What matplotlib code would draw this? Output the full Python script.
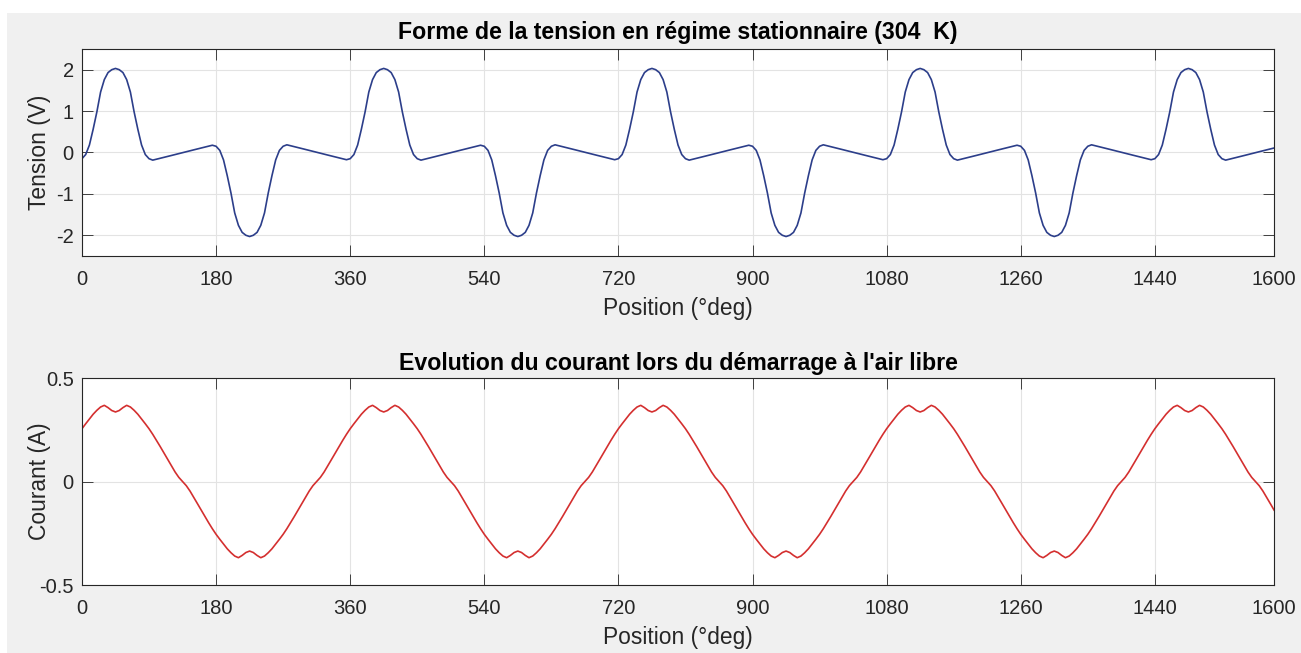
import numpy as np
import matplotlib
matplotlib.use("Agg")
import matplotlib.pyplot as plt
from matplotlib.patches import Rectangle

plt.rcParams['font.family'] = ['Liberation Sans', 'DejaVu Sans']
plt.rcParams['axes.unicode_minus'] = False

# position axis, one sample every 5 deg from 0 to 1600
position = np.arange(0, 1601, 5)

# voltage (V)
tension = [
    -0.15, -0.05, 0.18, 0.56, 0.98, 1.46, 1.76, 1.93, 2.00, 2.03, 2.00, 1.93,
    1.76, 1.46, 0.98, 0.56, 0.18, -0.05, -0.15, -0.185, -0.163, -0.14, -0.118, -0.095,
    -0.073, -0.05, -0.028, -0.005, 0.018, 0.04, 0.063, 0.085, 0.108, 0.13, 0.153, 0.175,
    0.15, 0.05, -0.18, -0.56, -0.98, -1.46, -1.76, -1.93, -2.00, -2.03, -2.00, -1.93,
    -1.76, -1.46, -0.98, -0.56, -0.18, 0.05, 0.15, 0.185, 0.163, 0.14, 0.118, 0.095,
    0.073, 0.05, 0.028, 0.005, -0.018, -0.04, -0.063, -0.085, -0.108, -0.13, -0.153, -0.175,
    # 360
    -0.15, -0.05, 0.18, 0.56, 0.98, 1.46, 1.76, 1.93, 2.00, 2.03, 2.00, 1.93,
    1.76, 1.46, 0.98, 0.56, 0.18, -0.05, -0.15, -0.185, -0.163, -0.14, -0.118, -0.095,
    -0.073, -0.05, -0.028, -0.005, 0.018, 0.04, 0.063, 0.085, 0.108, 0.13, 0.153, 0.175,
    0.15, 0.05, -0.18, -0.56, -0.98, -1.46, -1.76, -1.93, -2.00, -2.03, -2.00, -1.93,
    -1.76, -1.46, -0.98, -0.56, -0.18, 0.05, 0.15, 0.185, 0.163, 0.14, 0.118, 0.095,
    0.073, 0.05, 0.028, 0.005, -0.018, -0.04, -0.063, -0.085, -0.108, -0.13, -0.153, -0.175,
    # 720
    -0.15, -0.05, 0.18, 0.56, 0.98, 1.46, 1.76, 1.93, 2.00, 2.03, 2.00, 1.93,
    1.76, 1.46, 0.98, 0.56, 0.18, -0.05, -0.15, -0.185, -0.163, -0.14, -0.118, -0.095,
    -0.073, -0.05, -0.028, -0.005, 0.018, 0.04, 0.063, 0.085, 0.108, 0.13, 0.153, 0.175,
    0.15, 0.05, -0.18, -0.56, -0.98, -1.46, -1.76, -1.93, -2.00, -2.03, -2.00, -1.93,
    -1.76, -1.46, -0.98, -0.56, -0.18, 0.05, 0.15, 0.185, 0.163, 0.14, 0.118, 0.095,
    0.073, 0.05, 0.028, 0.005, -0.018, -0.04, -0.063, -0.085, -0.108, -0.13, -0.153, -0.175,
    # 1080
    -0.15, -0.05, 0.18, 0.56, 0.98, 1.46, 1.76, 1.93, 2.00, 2.03, 2.00, 1.93,
    1.76, 1.46, 0.98, 0.56, 0.18, -0.05, -0.15, -0.185, -0.163, -0.14, -0.118, -0.095,
    -0.073, -0.05, -0.028, -0.005, 0.018, 0.04, 0.063, 0.085, 0.108, 0.13, 0.153, 0.175,
    0.15, 0.05, -0.18, -0.56, -0.98, -1.46, -1.76, -1.93, -2.00, -2.03, -2.00, -1.93,
    -1.76, -1.46, -0.98, -0.56, -0.18, 0.05, 0.15, 0.185, 0.163, 0.14, 0.118, 0.095,
    0.073, 0.05, 0.028, 0.005, -0.018, -0.04, -0.063, -0.085, -0.108, -0.13, -0.153, -0.175,
    # 1440
    -0.15, -0.05, 0.18, 0.56, 0.98, 1.46, 1.76, 1.93, 2.00, 2.03, 2.00, 1.93,
    1.76, 1.46, 0.98, 0.56, 0.18, -0.05, -0.15, -0.185, -0.163, -0.14, -0.118, -0.095,
    -0.073, -0.05, -0.028, -0.005, 0.018, 0.04, 0.063, 0.085, 0.108,
]

# current (A)
courant = [
    0.255, 0.279, 0.302, 0.325, 0.344, 0.360, 0.368, 0.357, 0.343, 0.336, 0.343, 0.357,
    0.368, 0.360, 0.344, 0.325, 0.302, 0.279, 0.255, 0.228, 0.199, 0.169, 0.138, 0.107,
    0.076, 0.046, 0.020, 0.0, -0.020, -0.046, -0.076, -0.107, -0.138, -0.169, -0.199, -0.228,
    -0.255, -0.279, -0.302, -0.325, -0.344, -0.360, -0.368, -0.357, -0.343, -0.336, -0.343, -0.357,
    -0.368, -0.360, -0.344, -0.325, -0.302, -0.279, -0.255, -0.228, -0.199, -0.169, -0.138, -0.107,
    -0.076, -0.046, -0.020, 0.0, 0.020, 0.046, 0.076, 0.107, 0.138, 0.169, 0.199, 0.228,
    # 360
    0.255, 0.279, 0.302, 0.325, 0.344, 0.360, 0.368, 0.357, 0.343, 0.336, 0.343, 0.357,
    0.368, 0.360, 0.344, 0.325, 0.302, 0.279, 0.255, 0.228, 0.199, 0.169, 0.138, 0.107,
    0.076, 0.046, 0.020, 0.0, -0.020, -0.046, -0.076, -0.107, -0.138, -0.169, -0.199, -0.228,
    -0.255, -0.279, -0.302, -0.325, -0.344, -0.360, -0.368, -0.357, -0.343, -0.336, -0.343, -0.357,
    -0.368, -0.360, -0.344, -0.325, -0.302, -0.279, -0.255, -0.228, -0.199, -0.169, -0.138, -0.107,
    -0.076, -0.046, -0.020, 0.0, 0.020, 0.046, 0.076, 0.107, 0.138, 0.169, 0.199, 0.228,
    # 720
    0.255, 0.279, 0.302, 0.325, 0.344, 0.360, 0.368, 0.357, 0.343, 0.336, 0.343, 0.357,
    0.368, 0.360, 0.344, 0.325, 0.302, 0.279, 0.255, 0.228, 0.199, 0.169, 0.138, 0.107,
    0.076, 0.046, 0.020, 0.0, -0.020, -0.046, -0.076, -0.107, -0.138, -0.169, -0.199, -0.228,
    -0.255, -0.279, -0.302, -0.325, -0.344, -0.360, -0.368, -0.357, -0.343, -0.336, -0.343, -0.357,
    -0.368, -0.360, -0.344, -0.325, -0.302, -0.279, -0.255, -0.228, -0.199, -0.169, -0.138, -0.107,
    -0.076, -0.046, -0.020, 0.0, 0.020, 0.046, 0.076, 0.107, 0.138, 0.169, 0.199, 0.228,
    # 1080
    0.255, 0.279, 0.302, 0.325, 0.344, 0.360, 0.368, 0.357, 0.343, 0.336, 0.343, 0.357,
    0.368, 0.360, 0.344, 0.325, 0.302, 0.279, 0.255, 0.228, 0.199, 0.169, 0.138, 0.107,
    0.076, 0.046, 0.020, 0.0, -0.020, -0.046, -0.076, -0.107, -0.138, -0.169, -0.199, -0.228,
    -0.255, -0.279, -0.302, -0.325, -0.344, -0.360, -0.368, -0.357, -0.343, -0.336, -0.343, -0.357,
    -0.368, -0.360, -0.344, -0.325, -0.302, -0.279, -0.255, -0.228, -0.199, -0.169, -0.138, -0.107,
    -0.076, -0.046, -0.020, 0.0, 0.020, 0.046, 0.076, 0.107, 0.138, 0.169, 0.199, 0.228,
    # 1440
    0.255, 0.279, 0.302, 0.325, 0.344, 0.360, 0.368, 0.357, 0.343, 0.336, 0.343, 0.357,
    0.368, 0.360, 0.344, 0.325, 0.302, 0.279, 0.255, 0.228, 0.199, 0.169, 0.138, 0.107,
    0.076, 0.046, 0.020, 0.0, -0.020, -0.046, -0.076, -0.107, -0.138,
]

xticks = [0, 180, 360, 540, 720, 900, 1080, 1260, 1440, 1600]
yticks_tension = [-2, -1, 0, 1, 2]
yticks_courant = [-0.5, 0, 0.5]

fig = plt.figure(figsize=(13.01, 6.53), dpi=100)
fig.patch.set_facecolor('white')
fig.patches.append(Rectangle((7 / 1301, 0), 1, 640 / 653, transform=fig.transFigure,
                             facecolor='#f0f0f0', edgecolor='none', zorder=-10))

ax1 = fig.add_axes([0.0630, 0.6080, 0.9163, 0.3170])
ax2 = fig.add_axes([0.0630, 0.1041, 0.9163, 0.3170])

dark = '#262626'


def style(ax, yticks, ylabel, title, tpad):
    ax.set_facecolor('white')
    ax.set_xlim(0, 1600)
    ax.set_xticks(xticks)
    ax.set_yticks(yticks)
    ax.grid(True, color='#e3e3e3', linewidth=0.8)
    ax.set_axisbelow(True)
    ax.tick_params(direction='in', length=8, width=0.6, color=dark, labelcolor=dark,
                   labelsize=14.5, top=True, right=True)
    ax.tick_params(axis='x', pad=10)
    ax.tick_params(axis='y', pad=6)
    for s in ax.spines.values():
        s.set_color(dark)
        s.set_linewidth(0.8)
    ax.set_xlabel('Position (°deg)', fontsize=16.4, color=dark, labelpad=6)
    ax.set_ylabel(ylabel, fontsize=16.4, color=dark)
    ax.yaxis.set_label_coords(-0.026, 0.5)
    ax.set_title(title, fontsize=16.7, fontweight='bold', color='black', pad=tpad)


ax1.plot(position, tension, color='#2c3e8a', linewidth=1.2)
ax1.set_ylim(-2.5, 2.5)
style(ax1, yticks_tension, 'Tension (V)',
      'Forme de la tension en régime stationnaire (304  K)', 7)

ax2.plot(position, courant, color='#d42f2f', linewidth=1.2)
ax2.set_ylim(-0.5, 0.5)
style(ax2, yticks_courant, 'Courant (A)',
      "Evolution du courant lors du démarrage à l'air libre", 6)
ax2.set_yticklabels(['-0.5', '0', '0.5'])

fig.savefig('out.png', dpi=100)
